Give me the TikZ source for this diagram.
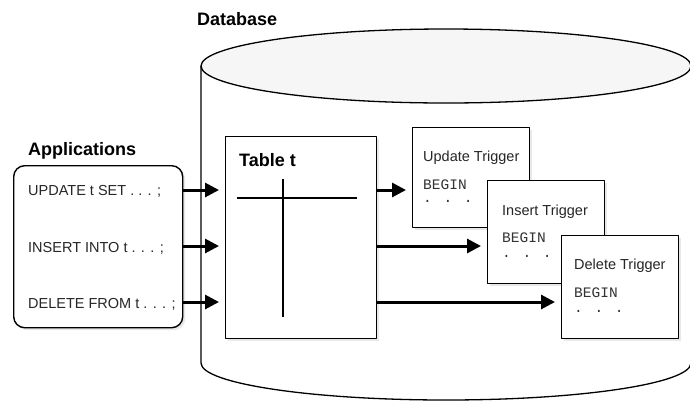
\documentclass[tikz,border=0pt]{standalone}
\usepackage{fontspec}
\setmainfont{Liberation Sans}
\newfontfamily\monof{Liberation Mono}
\usetikzlibrary{arrows.meta,shadows}
\begin{document}
\begin{tikzpicture}[x=1pt,y=-1pt,line join=round,
  box/.style={draw=black,line width=1.4pt,fill=white,anchor=north west,inner sep=0pt,
    drop shadow={opacity=0.18,shadow xshift=2.5pt,shadow yshift=-2.5pt,fill=gray}},
  lbl/.style={font=\fontsize{18}{20}\selectfont\bfseries,anchor=base west,inner sep=0pt},
  txt/.style={font=\fontsize{14.5}{16}\selectfont,text=black!85,anchor=base west,inner sep=0pt},
  code/.style={font=\monof\fontsize{14.5}{16}\selectfont,text=black!80,anchor=base west,inner sep=0pt},
  flow/.style={line width=3pt,-{Triangle[length=14pt,width=14pt]},shorten >=6pt},
  dbline/.style={line width=1.3pt}]
\useasboundingbox (0,0) rectangle (690,400);
% database cylinder
\draw[dbline,fill=white] (201,66) -- (201,363)
  arc[start angle=180,end angle=360,x radius=245pt,y radius=37pt] -- (691,66);
\draw[dbline,fill=gray!7] (446,66) ellipse[x radius=245pt,y radius=37pt];
\node[lbl] (db) at (197,25) {Database};
% applications
\node[lbl] (apl) at (28,155) {Applications};
\node[box,rounded corners=11pt,minimum width=169pt,minimum height=162pt] (app) at (13,165) {};
\node[txt] (u1) at (28,195) {UPDATE t SET . . . ;};
\node[txt] (u2) at (28,252) {INSERT INTO t . . . ;};
\node[txt] (u3) at (28,308) {DELETE FROM t . . . ;};
% table
\node[box,minimum width=151pt,minimum height=202pt] (tab) at (225,136) {};
\node[lbl] (tt) at (239,166) {Table t};
\draw[line width=1.4pt] (237,198) -- (357,198);
\draw[line width=1.4pt] (283,179) -- (283,317);
% triggers
\node[box,minimum width=117pt,minimum height=100pt] (ut) at (412,127) {};
\node[txt] (utl) at (423,161) {Update Trigger};
\node[code] (utb) at (423,189) {BEGIN};
\node[code] (utd) at (423,202) {. . .};
\node[box,minimum width=117pt,minimum height=103pt] (it) at (487,180) {};
\node[txt] (itl) at (502,215) {Insert Trigger};
\node[code] (itb) at (502,242) {BEGIN};
\node[code] (itd) at (502,257) {. . .};
\node[box,minimum width=117pt,minimum height=103pt] (dt) at (561,235) {};
\node[txt] (dtl) at (574,269) {Delete Trigger};
\node[code] (dtb) at (574,297) {BEGIN};
\node[code] (dtd) at (574,312) {. . .};
% arrow rows
\coordinate (r1) at (0,190);
\coordinate (r2) at (0,246);
\coordinate (r3) at (0,302);
\draw[flow] (app.east |- r1) -- (tab.west |- r1);
\draw[flow] (app.east |- r2) -- (tab.west |- r2);
\draw[flow] (app.east |- r3) -- (tab.west |- r3);
\draw[flow] (tab.east |- r1) -- (ut.west |- r1);
\draw[flow] (tab.east |- r2) -- (it.west |- r2);
\draw[flow] (tab.east |- r3) -- (dt.west |- r3);
\end{tikzpicture}
\end{document}
